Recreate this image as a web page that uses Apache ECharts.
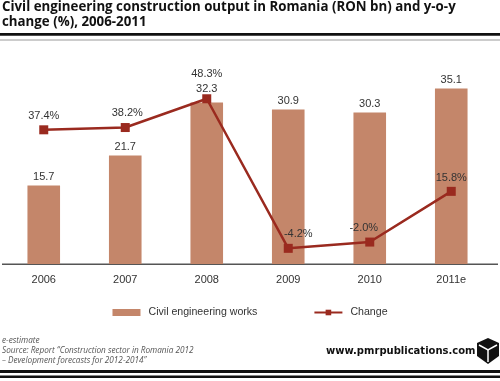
<!DOCTYPE html>
<html><head><meta charset="utf-8">
<script src="https://cdn.jsdelivr.net/npm/echarts@6/dist/echarts.min.js"></script>
<style>html,body{margin:0;padding:0;background:#fff}#c{width:500px;height:381px}</style>
</head><body><div id="c"></div>
<script>
const categories = ['2006','2007','2008','2009','2010','2011e'];
const works = [15.7, 21.7, 32.3, 30.9, 30.3, 35.1];
const change = [37.4, 38.2, 48.3, -4.2, -2.0, 15.8];
const titleLines = ['Civil engineering construction output in Romania (RON bn) and y-o-y', 'change (%), 2006-2011'];
const notes = ['e-estimate', 'Source: Report \u201cConstruction sector in Romania 2012', '\u2013 Development forecasts for 2012-2014\u201d'];

const barColor = '#c4866a';
const lineColor = '#9a2a1f';
const fontFam = 'Arial, "Liberation Sans", sans-serif';

// label tweaks per point (style only)
const changeLabelOffsets = [[0,1],[2,0],[0,-10],[10,1],[-6,1],[0,2]];
const barLabelDist = [3,3,8,3,3,3];

const chart = echarts.init(document.getElementById('c'), null, {renderer:'canvas'});
chart.setOption({
  animation:false,
  backgroundColor:'#fff',
  textStyle:{fontFamily:fontFam},
  grid:{left:3, right:8, top:64, height:200},
  xAxis:{type:'category', data:categories,
    axisLine:{show:false}, axisTick:{show:false},
    axisLabel:{color:'#333', fontSize:11, margin:10, fontFamily:fontFam}},
  yAxis:[
    {type:'value', min:0, max:40, show:false, splitLine:{show:false}},
    {type:'value', min:-9.7, max:60.5, show:false, splitLine:{show:false}}
  ],
  legend:{top:302, left:'center', itemGap:56, itemWidth:28, itemHeight:7,
    textStyle:{color:'#333', fontSize:10.6, fontFamily:fontFam, padding:[0,0,0,3]},
    data:[{name:'Civil engineering works', icon:'rect'}, {name:'Change'}]},
  series:[
    {name:'Civil engineering works', type:'bar', barWidth:'40%', yAxisIndex:0,
      itemStyle:{color:barColor},
      data: works.map((v,i)=>({value:v, label:{distance:barLabelDist[i]}})),
      label:{show:true, position:'top', color:'#333', fontSize:11, fontFamily:fontFam}},
    {name:'Change', type:'line', yAxisIndex:1, symbol:'rect', symbolSize:9,
      itemStyle:{color:lineColor}, lineStyle:{color:lineColor, width:2.5},
      data: change.map((v,i)=>({value:v, label:{offset:changeLabelOffsets[i]}})),
      label:{show:true, position:'top', distance:5, color:'#333', fontSize:11, fontFamily:fontFam,
        formatter:p=>p.value.toFixed(1)+'%'}, z:5}
  ],
  graphic:[
    {type:'text', x:2, y:7.5, style:{text:titleLines[0], font:'bold 13.3px "Open Sans", sans-serif', fill:'#111', verticalAlign:'middle'}},
    {type:'text', x:2, y:22.5, style:{text:titleLines[1], font:'bold 13.3px "Open Sans", sans-serif', fill:'#111', verticalAlign:'middle'}},
    {type:'rect', shape:{x:0,y:33,width:500,height:2.7}, style:{fill:'#111'}},
    {type:'rect', shape:{x:0,y:39.5,width:500,height:1}, style:{fill:'#999'}},
    {type:'rect', shape:{x:2,y:263.5,width:496,height:1.5}, style:{fill:'#555'}},
    {type:'text', left:2, top:336, style:{text:notes.join('\n'), font:'italic 8.2px "Open Sans", sans-serif', fill:'#555', lineHeight:9.7}},
    {type:'text', left:326, top:346, style:{text:'www.pmrpublications.com', font:'bold 10px "DejaVu Sans", sans-serif', fill:'#111'}},
    {type:'polygon', shape:{points:[[477,343],[488,338],[499,343],[499,356],[488,364],[477,356]]}, style:{fill:'#111'}},
    {type:'polyline', shape:{points:[[479,345],[488,350],[497,345]]}, style:{stroke:'#fff', lineWidth:1.5, fill:null}},
    {type:'line', shape:{x1:488,y1:350,x2:488,y2:362}, style:{stroke:'#fff', lineWidth:1.5}},
    {type:'rect', shape:{x:0,y:370,width:500,height:3}, style:{fill:'#111'}},
    {type:'rect', shape:{x:0,y:375.5,width:500,height:2.5}, style:{fill:'#111'}}
  ]
});
</script></body></html>
